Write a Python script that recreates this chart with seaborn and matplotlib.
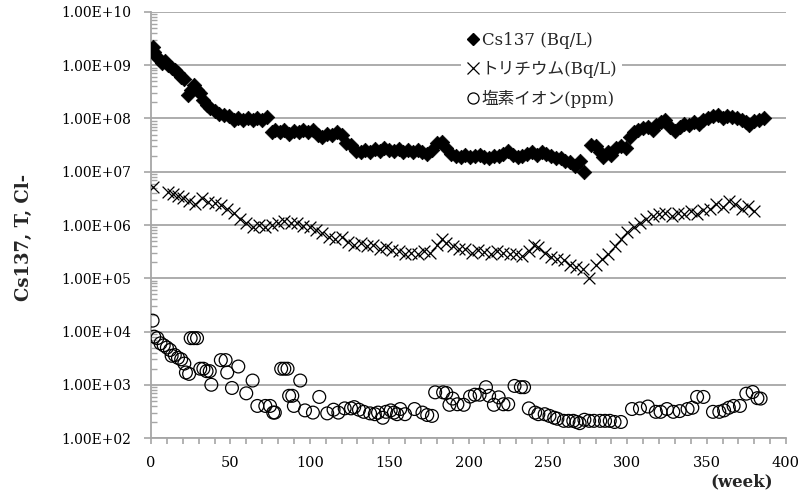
import matplotlib
matplotlib.use("Agg")
import matplotlib.pyplot as plt
from matplotlib.lines import Line2D
from matplotlib.font_manager import FontProperties
from matplotlib.ticker import LogLocator, MultipleLocator, NullFormatter
import seaborn as sns
import pandas as pd
import numpy as np

# ---------------- data ----------------
cs_week = [1, 2, 3, 5, 7, 9, 11, 13, 15, 17, 19, 21, 23, 25, 27, 29, 31, 33, 35, 37,
           40, 43, 46, 49, 52, 55, 58, 61, 64, 67, 70, 73, 76, 78, 81, 84, 87, 90, 93, 96,
           99, 102, 105, 108, 111, 114, 117, 120, 123, 126, 129, 132, 135, 138, 141, 144,
           147, 150, 153, 156, 159, 162, 165, 168, 171, 174, 177, 180, 183, 186, 189, 192,
           195, 198, 201, 204, 207, 210, 213, 216, 219, 222, 225, 228, 231, 234, 237, 240,
           243, 246, 249, 252, 255, 258, 261, 264, 267, 270, 273, 277, 280, 283, 285, 288,
           290, 293, 296, 299, 302, 304, 307, 310, 313, 316, 318, 321, 324, 327, 330, 333,
           336, 339, 342, 345, 348, 351, 354, 357, 360, 363, 366, 369, 372, 375, 377, 380,
           383, 386]
cs_val = [2.2e9, 1.8e9, 1.5e9, 1.3e9, 1.1e9, 1.2e9, 1.0e9, 9e8, 8e8, 7e8, 6e8, 5.5e8,
          2.8e8, 3.5e8, 4.2e8, 3.5e8, 3.0e8, 2.2e8, 1.8e8, 1.6e8,
          1.4e8, 1.2e8, 1.15e8, 1.1e8, 9.5e7, 1.0e8, 9.5e7, 1.0e8, 9.5e7, 1.0e8, 9.5e7,
          1.05e8, 5.5e7, 6.0e7, 5.5e7, 6.0e7, 5.2e7, 5.8e7, 5.5e7, 6.0e7,
          5.5e7, 6.0e7, 5.0e7, 4.5e7, 5.2e7, 5.0e7, 5.5e7, 5.0e7, 3.5e7, 3.2e7, 2.5e7,
          2.3e7, 2.6e7, 2.4e7, 2.7e7, 2.5e7,
          2.8e7, 2.6e7, 2.5e7, 2.7e7, 2.4e7, 2.6e7, 2.3e7, 2.6e7, 2.4e7, 2.2e7, 2.6e7,
          3.4e7, 3.6e7, 2.8e7, 2.2e7, 2.0e7,
          1.9e7, 2.1e7, 1.9e7, 2.0e7, 2.1e7, 1.9e7, 1.8e7, 2.0e7, 2.0e7, 2.2e7, 2.5e7,
          2.1e7, 1.9e7, 2.0e7, 2.2e7, 2.3e7,
          2.1e7, 2.3e7, 2.2e7, 2.0e7, 1.8e7, 1.8e7, 1.6e7, 1.5e7, 1.3e7, 1.6e7, 1.0e7,
          3.2e7, 3.0e7, 2.4e7, 1.9e7, 2.3e7,
          2.1e7, 2.8e7, 3.0e7, 2.8e7, 4.5e7, 5.5e7, 6.0e7, 6.5e7, 7.0e7, 6.0e7, 7.5e7,
          8.5e7, 9.5e7, 7.0e7, 5.8e7, 7.0e7,
          8.0e7, 7.5e7, 8.5e7, 8.0e7, 9.5e7, 1.0e8, 1.1e8, 1.15e8, 1.0e8, 1.1e8, 1.05e8,
          1.0e8, 9.5e7, 8.5e7, 7.5e7, 9.0e7,
          9.5e7, 1.0e8]

t_week = [1, 11, 14, 17, 20, 24, 28, 32, 36, 40, 44, 48, 52, 56, 60, 64, 68, 72, 76, 80,
          84, 88, 92, 96, 100, 104, 108, 112, 116, 120, 124, 128, 132, 136, 140, 144, 148,
          152, 156, 160, 164, 168, 172, 176, 180, 183, 186, 190, 194, 198, 202, 206, 210,
          214, 218, 222, 226, 230, 234, 238, 241, 244, 248, 252, 256, 260, 264, 268, 272,
          276, 280, 284, 288, 292, 296, 300, 304, 308, 312, 316, 320, 324, 328, 332, 336,
          340, 344, 348, 352, 356, 360, 364, 368, 372, 376, 380]
t_val = [5.2e6, 4.2e6, 3.8e6, 3.5e6, 3.2e6, 2.8e6, 2.5e6, 3.2e6, 2.7e6, 2.6e6, 2.4e6,
         2.0e6, 1.7e6, 1.3e6, 1.1e6, 9e5, 1.0e6, 9e5, 1.0e6, 1.1e6,
         1.2e6, 1.1e6, 1.1e6, 9.5e5, 9e5, 8e5, 7e5, 6e5, 5.5e5, 6e5, 4.8e5, 4.2e5, 4.5e5,
         4e5, 4.2e5, 3.6e5, 3.8e5,
         3.4e5, 3.2e5, 2.8e5, 3.0e5, 2.8e5, 3.2e5, 3.0e5, 4.2e5, 5.5e5, 4.5e5, 4e5, 3.5e5,
         3.6e5, 3.0e5, 3.4e5, 3.1e5,
         2.8e5, 3.2e5, 3.0e5, 2.9e5, 2.8e5, 2.6e5, 3.2e5, 4.2e5, 3.8e5, 3.0e5, 2.5e5,
         2.3e5, 2.2e5, 1.8e5, 1.6e5, 1.5e5,
         1.0e5, 1.8e5, 2.3e5, 2.8e5, 4.0e5, 5.5e5, 7.5e5, 9e5, 1.1e6, 1.3e6, 1.5e6, 1.6e6,
         1.7e6, 1.5e6, 1.7e6, 1.6e6,
         1.8e6, 1.6e6, 1.9e6, 2.0e6, 2.5e6, 2.2e6, 2.8e6, 2.5e6, 2.0e6, 2.3e6, 1.8e6]

cl_week = [1, 2, 4, 6, 8, 10, 12, 13, 15, 17, 19, 21, 22, 24, 25, 27, 29, 31, 33, 35,
           37, 38, 44, 47, 48, 51, 55, 60, 64, 67, 72, 75, 77, 78, 82, 84, 86, 87, 89, 90,
           94, 97, 102, 106, 111, 115, 118, 122, 126, 128, 131, 134, 138, 141, 143, 146,
           148, 151, 153, 155, 157, 160, 166, 171, 174, 177, 179, 184, 186, 188, 190, 193,
           197, 201, 204, 207, 211, 213, 216, 219, 222, 225, 229, 233, 235, 238, 242, 244,
           248, 251, 254, 256, 260, 263, 266, 268, 270, 273, 276, 279, 283, 286, 289, 292,
           296, 303, 308, 313, 318, 321, 325, 329, 333, 338, 341, 344, 348, 354, 358, 361,
           364, 367, 371, 375, 379, 382, 384]
cl_val = [1.6e4, 8e3, 7.5e3, 6e3, 5.5e3, 5e3, 4.5e3, 3.5e3, 3.6e3, 3.2e3, 3.0e3, 2.5e3,
          1.7e3, 1.6e3, 7.5e3, 7.5e3, 7.5e3, 2.0e3, 2.0e3, 1.8e3,
          1.8e3, 1.0e3, 2.9e3, 2.9e3, 1.7e3, 8.7e2, 2.2e3, 6.9e2, 1.2e3, 4.0e2, 4.0e2,
          4.0e2, 3.0e2, 3.0e2, 2.0e3, 2.0e3, 2.0e3, 6.2e2, 6.2e2, 4.0e2,
          1.2e3, 3.3e2, 3.0e2, 5.9e2, 2.9e2, 3.4e2, 3.0e2, 3.6e2, 3.6e2, 3.8e2, 3.4e2,
          3.1e2, 2.9e2, 2.8e2, 3.0e2, 2.4e2,
          3.1e2, 3.3e2, 3.0e2, 2.8e2, 3.5e2, 2.8e2, 3.5e2, 3.0e2, 2.7e2, 2.6e2, 7.2e2,
          7.2e2, 7.0e2, 4.2e2, 5.5e2, 4.3e2,
          4.2e2, 6.0e2, 6.5e2, 6.5e2, 9.0e2, 6.2e2, 4.2e2, 5.8e2, 4.3e2, 4.3e2, 9.5e2,
          9.0e2, 9.0e2, 3.6e2, 3.0e2, 2.8e2,
          2.8e2, 2.6e2, 2.4e2, 2.3e2, 2.1e2, 2.1e2, 2.1e2, 2.0e2, 1.9e2, 2.2e2, 2.1e2,
          2.1e2, 2.1e2, 2.1e2, 2.1e2, 2.0e2,
          2.0e2, 3.5e2, 3.6e2, 3.9e2, 3.1e2, 3.1e2, 3.5e2, 3.1e2, 3.2e2, 3.5e2, 3.7e2,
          5.9e2, 5.9e2, 3.1e2, 3.1e2, 3.3e2,
          3.7e2, 4.0e2, 4.0e2, 6.8e2, 7.3e2, 5.6e2, 5.5e2]

series_labels = ["Cs137 (Bq/L)", "トリチウム(Bq/L)", "塩素イオン(ppm)"]
y_ticks = [1e2, 1e3, 1e4, 1e5, 1e6, 1e7, 1e8, 1e9, 1e10]
y_tick_labels = ["1.00E+02", "1.00E+03", "1.00E+04", "1.00E+05", "1.00E+06",
                 "1.00E+07", "1.00E+08", "1.00E+09", "1.00E+10"]
x_ticks = [0, 50, 100, 150, 200, 250, 300, 350, 400]

# ---------------- style ----------------
sns.set_style("white")
plt.rcParams["font.family"] = ["DejaVu Serif", "Noto Sans CJK JP"]
grid_col = "#a6a6a6"

fig = plt.figure(figsize=(8.02, 4.94), dpi=100)
ax = fig.add_axes([151 / 802, 1 - 438 / 494, (786 - 151) / 802, (438 - 12) / 494])

df_cs = pd.DataFrame({"week": cs_week, "value": cs_val})
df_t = pd.DataFrame({"week": t_week, "value": t_val})
df_cl = pd.DataFrame({"week": cl_week, "value": cl_val})

sns.scatterplot(data=df_cs, x="week", y="value", marker="D", s=55, color="black",
                edgecolor="black", linewidth=0.5, ax=ax, zorder=3)
sns.scatterplot(data=df_t, x="week", y="value", marker="x", s=72, color="black",
                linewidth=0.9, ax=ax, zorder=3)
sns.scatterplot(data=df_cl, x="week", y="value", marker="o", s=85, facecolors="none",
                edgecolors="black", linewidth=0.9, ax=ax, zorder=3)

ax.set_yscale("log")
ax.set_ylim(1e2, 1e10)
ax.set_xlim(0, 400)
ax.set_yticks(y_ticks)
ax.set_yticklabels(y_tick_labels)
ax.yaxis.set_minor_locator(LogLocator(base=10, subs=np.arange(2, 10), numticks=20))
ax.yaxis.set_minor_formatter(NullFormatter())
ax.set_xticks(x_ticks)
ax.set_xticklabels([str(v) for v in x_ticks])
ax.xaxis.set_minor_locator(MultipleLocator(10))

ax.grid(False)
for yv in y_ticks:
    ax.axhline(yv, color=grid_col, lw=1.3, zorder=1)

for s in ["top", "right"]:
    ax.spines[s].set_visible(False)
for s in ["left", "bottom"]:
    ax.spines[s].set_color(grid_col)
    ax.spines[s].set_linewidth(1.3)

ax.tick_params(left=True, bottom=True, which="both")
ax.tick_params(axis="y", which="major", direction="out", length=5, width=1.2,
               color=grid_col, labelsize=10, pad=9, labelcolor="black")
ax.tick_params(axis="y", which="minor", direction="in", length=4, width=1,
               color=grid_col)
ax.tick_params(axis="x", which="both", direction="out", length=4, width=1.2,
               color=grid_col, labelsize=10.5, pad=9, labelcolor="black")

ax.set_xlabel("")
ax.set_ylabel("Cs137, T, Cl-", fontsize=13, fontweight="bold")
ax.yaxis.set_label_coords(-0.186, 0.47)

fig.text(742 / 802, 1 - 482 / 494, "(week)", fontsize=12, fontweight="bold",
         ha="center", va="center")

handles = [
    Line2D([], [], marker="D", ls="none", color="black", markersize=6),
    Line2D([], [], marker="x", ls="none", color="black", markersize=8, markeredgewidth=0.9),
    Line2D([], [], marker="o", ls="none", markerfacecolor="none", markeredgecolor="black",
           markersize=8, markeredgewidth=0.9),
]
leg = ax.legend(handles, series_labels, loc="upper left",
                bbox_to_anchor=(461 / 802, 1 - 27 / 494), bbox_transform=fig.transFigure,
                prop=FontProperties(family=["DejaVu Serif", "Noto Sans CJK JP"], size=12),
                frameon=True, facecolor="white", edgecolor="none", framealpha=1,
                fancybox=False, handlelength=0.8, handletextpad=0.15, labelspacing=0.72,
                borderpad=0.3, borderaxespad=0, numpoints=1)
leg.set_zorder(5)

fig.savefig("out.png", dpi=100)
